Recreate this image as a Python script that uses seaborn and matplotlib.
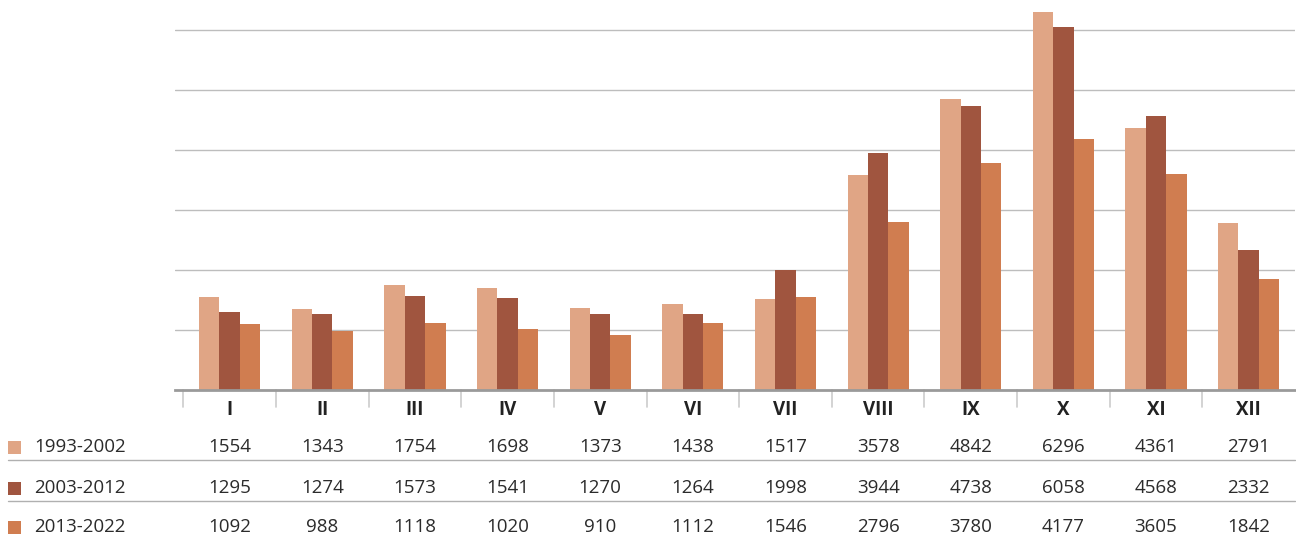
import matplotlib
matplotlib.use("Agg")
import matplotlib.pyplot as plt
import matplotlib.transforms as mtransforms
from matplotlib.patches import Rectangle
import pandas as pd
import seaborn as sns

months = ["I", "II", "III", "IV", "V", "VI", "VII", "VIII", "IX", "X", "XI", "XII"]
periods = ["1993-2002", "2003-2012", "2013-2022"]
values_1993_2002 = [1554, 1343, 1754, 1698, 1373, 1438, 1517, 3578, 4842, 6296, 4361, 2791]
values_2003_2012 = [1295, 1274, 1573, 1541, 1270, 1264, 1998, 3944, 4738, 6058, 4568, 2332]
values_2013_2022 = [1092, 988, 1118, 1020, 910, 1112, 1546, 2796, 3780, 4177, 3605, 1842]
colors = ["#E0A585", "#A0553F", "#D07D50"]

series = [values_1993_2002, values_2003_2012, values_2013_2022]
df = pd.DataFrame({
    "month": [m for _ in periods for m in months],
    "period": [p for p in periods for _ in months],
    "value": [v for s in series for v in s],
})

sns.set_theme(style="white")
plt.rcParams["font.family"] = ["Open Sans", "DejaVu Sans"]
text_color = "#2b2b2b"

W, H = 1296, 537
fig = plt.figure(figsize=(W / 100, H / 100), dpi=100)
ax = fig.add_axes([175 / W, 1 - 390 / H, 1120 / W, 390 / H])

sns.barplot(data=df, x="month", y="value", hue="period", order=months,
            hue_order=periods, palette=colors, width=0.66, saturation=1,
            gap=0, legend=False, ax=ax, linewidth=0)

ax.set_xlim(-0.59, 11.5)
ax.set_ylim(0, 6500)
ax.set_yticks(range(1000, 7000, 1000))
ax.yaxis.grid(True, color="#bdbdbd", linewidth=1)
ax.set_axisbelow(True)
ax.set_yticklabels([])
ax.tick_params(left=False, bottom=False, labelbottom=False)
ax.set_xlabel("")
ax.set_ylabel("")
for side in ["top", "right", "left"]:
    ax.spines[side].set_visible(False)
ax.spines["bottom"].set_color("#9a9a9a")
ax.spines["bottom"].set_linewidth(2)

# category separators under the baseline
xt = ax.get_xaxis_transform()
for i in range(len(months)):
    ax.plot([i - 0.5, i - 0.5], [0, -17 / 390], transform=xt, color="#cccccc",
            linewidth=1.2, clip_on=False)

# month labels and the value table
bt = mtransforms.blended_transform_factory(ax.transData, fig.transFigure)
for i, m in enumerate(months):
    fig.text(i, 1 - 410 / H, m, transform=bt, ha="center", va="center",
             fontsize=13.5, fontweight="bold", color="#222222")

row_y = [447, 488, 527]
for r, (period, vals, col) in enumerate(zip(periods, series, colors)):
    yc = row_y[r]
    fig.patches.append(Rectangle((8 / W, 1 - (yc + 6.5) / H), 13 / W, 13 / H,
                                 transform=fig.transFigure, facecolor=col,
                                 edgecolor="none"))
    fig.text(34 / W, 1 - yc / H, period, ha="left", va="center",
             fontsize=13.5, color=text_color)
    for i, v in enumerate(vals):
        fig.text(i, 1 - yc / H, str(v), transform=bt, ha="center",
                 va="center", fontsize=13.5, color=text_color)

for ly in [460, 501]:
    fig.add_artist(plt.Line2D([8 / W, 1295 / W], [1 - ly / H, 1 - ly / H],
                              transform=fig.transFigure, color="#b0b0b0",
                              linewidth=1))

fig.savefig("out.png", dpi=100)
